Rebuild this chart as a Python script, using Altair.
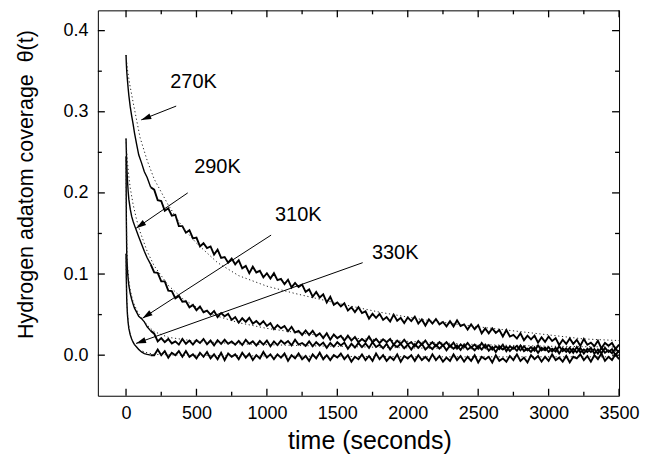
import math
import altair as alt
import pandas as pd

# ---------------- data ----------------
TIME = [0, 2, 5, 10, 15, 20, 30, 40, 50, 60, 75, 90, 110, 130, 150, 175,
        200, 225, 250, 275, 300, 325, 350, 375, 400, 425,
        450, 475, 500, 525, 550, 575, 600, 625, 650, 675,
        700, 725, 750, 775, 800, 825, 850, 875, 900, 925,
        950, 975, 1000, 1025, 1050, 1075, 1100, 1125, 1150, 1175,
        1200, 1225, 1250, 1275, 1300, 1325, 1350, 1375, 1400, 1425,
        1450, 1475, 1500, 1525, 1550, 1575, 1600, 1625, 1650, 1675,
        1700, 1725, 1750, 1775, 1800, 1825, 1850, 1875, 1900, 1925,
        1950, 1975, 2000, 2025, 2050, 2075, 2100, 2125, 2150, 2175,
        2200, 2225, 2250, 2275, 2300, 2325, 2350, 2375, 2400, 2425,
        2450, 2475, 2500, 2525, 2550, 2575, 2600, 2625, 2650, 2675,
        2700, 2725, 2750, 2775, 2800, 2825, 2850, 2875, 2900, 2925,
        2950, 2975, 3000, 3025, 3050, 3075, 3100, 3125, 3150, 3175,
        3200, 3225, 3250, 3275, 3300, 3325, 3350, 3375, 3400, 3425,
        3450, 3475, 3500]

COV_270 = [.370, .360, .350, .339, .329, .320, .306, .295, .285, .274, .260, .247, .237, .226, .219, .207,
           .204, .191, .190, .178, .181, .172, .173, .159, .159, .151,
           .154, .144, .145, .134, .138, .132, .134, .124, .130, .120,
           .121, .114, .119, .112, .117, .107, .110, .101, .109, .102,
           .104, .096, .101, .0945, .101, .0925, .094, .0875, .093, .0835,
           .089, .084, .087, .078, .081, .072, .078, .071, .075, .065,
           .072, .062, .065, .060, .064, .055, .059, .053, .059, .052,
           .054, .045, .051, .046, .051, .0435, .047, .0415, .050, .0425,
           .046, .0397, .0465, .042, .0475, .039, .044, .0365, .044, .039,
           .0445, .038, .041, .0355, .042, .0355, .043, .036, .038, .0315,
           .038, .032, .037, .027, .033, .027, .033, .0275, .031, .023,
           .031, .023, .025, .0205, .027, .0185, .024, .0195, .024, .0155,
           .022, .0165, .023, .0175, .021, .0125, .019, .0138, .0205, .014,
           .019, .0115, .020, .0128, .0155, .011, .0178, .0085, .015, .0115,
           .015, .0075, .013]

COV_290 = [.267, .252, .235, .216, .202, .192, .180, .171, .165, .160, .153, .146, .137, .128, .120, .112,
           .102, .1015, .091, .091, .0795, .079, .070, .073, .066, .0665,
           .059, .062, .0555, .060, .053, .055, .050, .0545, .047, .052,
           .048, .051, .0435, .047, .040, .0455, .041, .046, .039, .042,
           .0375, .042, .036, .0395, .032, .037, .033, .036, .0295, .035,
           .028, .030, .025, .0305, .025, .030, .0235, .027, .021, .027,
           .019, .0255, .021, .024, .018, .024, .018, .0225, .016, .020,
           .0165, .023, .016, .020, .015, .0195, .016, .020, .013, .018,
           .014, .019, .0135, .016, .011, .0175, .013, .018, .0115, .016,
           .011, .016, .012, .016, .0105, .0155, .008, .013, .010, .015,
           .0095, .013, .008, .015, .009, .0125, .007, .011, .0075, .013,
           .005, .011, .008, .0115, .006, .011, .006, .010, .0055, .012,
           .006, .0095, .004, .008, .0045, .011, .005, .0085, .003, .008,
           .0035, .009, .002, .008, .004, .0075, .002, .009, .003, .006,
           .0025, .008, .003]

COV_310 = [.245, .170, .125, .105, .094, .086, .076, .069, .063, .058, .053, .048, .045, .041, .035, .030,
           .0265, .017, .021, .016, .020, .0145, .017, .013, .020, .014,
           .018, .013, .0185, .015, .020, .0135, .018, .012, .0185, .014,
           .019, .014, .017, .013, .0175, .0125, .019, .014, .017, .012,
           .0175, .013, .018, .011, .017, .0125, .018, .014, .0175, .012,
           .019, .013, .015, .0115, .017, .011, .016, .012, .0155, .009,
           .015, .0105, .016, .012, .0155, .008, .014, .0095, .015, .010,
           .0145, .009, .016, .010, .013, .0085, .014, .007, .013, .010,
           .014, .0085, .013, .007, .0135, .009, .014, .007, .011, .0075,
           .013, .008, .0125, .006, .012, .008, .012, .0065, .013, .007,
           .010, .006, .0115, .007, .013, .0055, .010, .004, .011, .007,
           .0105, .005, .010, .0055, .012, .005, .008, .004, .0095, .003,
           .009, .006, .010, .0045, .009, .002, .0085, .004, .009, .003,
           .010, .0035, .007, .004, .009, .002, .007, .0025, .009, .004,
           .0075, .000, .006]

COV_330 = [.125, .095, .068, .050, .040, .033, .025, .020, .016, .013, .010, .007, .004, .002, .001, .000,
           .000, .007, .000, .005, -.003, .003, .000, .005, -.002, .005,
           -.002, .001, -.004, .003, -.002, .004, -.004, .001, -.005, .003,
           -.006, .002, -.002, .001, -.005, .003, -.003, .002, -.006, .000,
           -.004, .004, -.003, .001, -.005, .001, -.003, .002, -.007, .000,
           -.004, .002, -.005, -.001, -.007, .001, -.004, .003, -.005, .000,
           -.006, .000, -.003, .002, -.005, .000, -.008, -.002, -.005, .001,
           -.006, -.001, -.007, .002, -.005, .000, -.007, -.002, -.006, .001,
           -.008, -.001, -.004, .000, -.007, .000, -.006, -.002, -.007, .001,
           -.006, -.001, -.008, -.003, -.007, .001, -.006, -.001, -.008, -.002,
           -.007, .000, -.009, -.002, -.005, -.002, -.009, .000, -.007, -.004,
           -.008, -.001, -.006, .001, -.007, -.003, -.009, .000, -.005, -.001,
           -.008, -.002, -.007, .001, -.006, -.003, -.008, -.001, -.009, -.002,
           -.004, .001, -.006, -.001, -.008, .000, -.005, .002, -.007, -.002,
           -.006, .001, -.005]

# fitted (dotted) curves
FIT_T_270 = [0, 10, 25, 50, 75, 100, 150, 200, 300, 400, 500, 650, 800, 1000, 1200, 1500, 1800, 2100, 2400, 2700, 3000, 3250, 3500]
FIT_270 = [.370, .352, .335, .312, .290, .268, .240, .217, .185, .158, .138, .114, .098, .085, .076, .064, .053, .044, .037, .031, .025, .020, .018]
FIT_T_290 = [0, 5, 10, 20, 30, 50, 75, 100, 150, 200, 300, 400, 500, 650, 800, 1000, 1250, 1500, 2000, 2500, 3000, 3500]
FIT_290 = [.267, .250, .238, .220, .206, .186, .167, .152, .128, .110, .086, .070, .059, .048, .040, .033, .027, .022, .017, .013, .011, .010]
FIT_T_310 = [0, 2, 5, 10, 20, 30, 50, 75, 100, 150, 200, 300, 500, 800, 1200, 2000, 3500]
FIT_310 = [.245, .185, .140, .112, .092, .080, .066, .056, .048, .037, .029, .022, .017, .014, .012, .009, .005]
FIT_T_330 = [0, 2, 5, 10, 20, 30, 50, 75, 100, 150, 200, 400, 1000, 2000, 3500]
FIT_330 = [.125, .098, .072, .052, .035, .026, .016, .010, .006, .003, .001, .000, -.001, -.002, -.002]

# annotations
LABELS = ["270K", "290K", "310K", "330K"]
LABEL_T = [479, 649, 1223, 1911]
LABEL_Y = [.337, .232, .173, .126]
ARROW_T0 = [356, 438, 1030, 1680]
ARROW_Y0 = [.307, .200, .148, .114]
ARROW_T1 = [108, 72, 117, 71]
ARROW_Y1 = [.290, .1565, .0455, .0145]

X_MIN, X_MAX = -200, 3500
Y_MIN, Y_MAX = -0.05, 0.425
X_MAJOR = [0, 500, 1000, 1500, 2000, 2500, 3000, 3500]
X_MINOR = [250, 750, 1250, 1750, 2250, 2750, 3250]
Y_MAJOR = [0.0, 0.1, 0.2, 0.3, 0.4]
Y_MINOR = [0.05, 0.15, 0.25, 0.35]

# ---------------- layout ----------------
W, H = 522, 386
FONT = "Liberation Sans"
MAJ, MIN = 7, 4
NOISE_START = 175

solid = pd.concat([
    pd.DataFrame({"t": TIME, "v": vals, "s": name})
    for name, vals in zip(LABELS, [COV_270, COV_290, COV_310, COV_330])
])
fits = pd.concat([
    pd.DataFrame({"t": tt, "v": vv, "s": name})
    for name, tt, vv in zip(LABELS, [FIT_T_270, FIT_T_290, FIT_T_310, FIT_T_330],
                            [FIT_270, FIT_290, FIT_310, FIT_330])
])
sx = W / (X_MAX - X_MIN)
sy = H / (Y_MAX - Y_MIN)
angles = [math.degrees(math.atan2(-(y1 - y0) * sy, (t1 - t0) * sx)) % 360
          for t0, y0, t1, y1 in zip(ARROW_T0, ARROW_Y0, ARROW_T1, ARROW_Y1)]
arrows = pd.DataFrame({"t0": ARROW_T0, "y0": ARROW_Y0, "t1": ARROW_T1, "y1": ARROW_Y1,
                       "angle": angles})
labels = pd.DataFrame({"t": LABEL_T, "y": LABEL_Y, "label": LABELS})

# inward tick marks on all four sides, expressed in data units so they go through the scales
tick_rows = []
for vals, ln in ((X_MAJOR, MAJ), (X_MINOR, MIN)):
    for v in vals:
        tick_rows.append((v, v, Y_MIN, Y_MIN + ln / sy))
        tick_rows.append((v, v, Y_MAX, Y_MAX - ln / sy))
for vals, ln in ((Y_MAJOR, MAJ), (Y_MINOR, MIN)):
    for v in vals:
        tick_rows.append((X_MIN, X_MIN + ln / sx, v, v))
        tick_rows.append((X_MAX, X_MAX - ln / sx, v, v))
ticks = pd.DataFrame(tick_rows, columns=["x0", "x1", "y0", "y1"])

xscale = alt.Scale(domain=[X_MIN, X_MAX], nice=False, zero=False)
yscale = alt.Scale(domain=[Y_MIN, Y_MAX], nice=False, zero=False)

ax_x = alt.Axis(orient="bottom", values=X_MAJOR, format="d", ticks=False, domain=False,
                grid=False, labelFlush=False, labelOverlap=False,
                labelFont=FONT, labelFontSize=18, labelColor="black", labelPadding=9,
                title="time (seconds)", titleFont=FONT, titleFontSize=25,
                titleFontWeight="normal", titleColor="black", titlePadding=6,
                titleX=272, titleAlign="center", titleAnchor="middle")
ax_y = alt.Axis(orient="left", values=Y_MAJOR, format=".1f", ticks=False, domain=False,
                grid=False, labelFlush=False, labelOverlap=False,
                labelFont=FONT, labelFontSize=18, labelColor="black", labelPadding=10,
                title="Hydrogen adatom coverage\u00a0 \u03b8(t)", titleFont=FONT,
                titleFontSize=21.5, titleFontWeight="normal", titleColor="black",
                titlePadding=25, titleY=174, titleAlign="center", titleAnchor="middle")

X = lambda f: alt.X(f, type="quantitative", scale=xscale, axis=ax_x)
Y = lambda f: alt.Y(f, type="quantitative", scale=yscale, axis=ax_y)

early = alt.Chart(solid).transform_filter(alt.datum.t <= NOISE_START).mark_line(
    color="black", strokeWidth=1.4).encode(x=X("t"), y=Y("v"), detail="s:N")
noisy = alt.Chart(solid).transform_filter(alt.datum.t >= NOISE_START).mark_line(
    color="black", strokeWidth=1.9, strokeJoin="miter").encode(x=X("t"), y=Y("v"), detail="s:N")
dotted = alt.Chart(fits).mark_line(color="#222222", strokeWidth=1, strokeDash=[1.2, 2.6]).encode(
    x=X("t"), y=Y("v"), detail="s:N")
rules = alt.Chart(arrows).mark_rule(color="black", strokeWidth=1).encode(
    x=X("t0"), y=Y("y0"), x2="t1:Q", y2="y1:Q")
heads = alt.Chart(arrows).mark_point(
    shape="M0,0 L-1,-0.3 L-1,0.3 Z", filled=True, color="black", opacity=1, size=400
).encode(x=X("t1"), y=Y("y1"), angle=alt.Angle("angle:Q", scale=None))
texts = alt.Chart(labels).mark_text(font=FONT, fontSize=20, color="black",
                                    align="center", baseline="middle").encode(
    x=X("t"), y=Y("y"), text="label:N")
tick_marks = alt.Chart(ticks).mark_rule(color="black", strokeWidth=1.3).encode(
    x=X("x0"), x2="x1:Q", y=Y("y0"), y2="y1:Q")

chart = alt.layer(early, noisy, dotted, rules, heads, texts, tick_marks).properties(
    width=W, height=H,
    autosize=alt.AutoSizeParams(type="none"),
    padding={"left": 90, "top": 2, "right": 30, "bottom": 62},
    background="white",
).configure_view(stroke="black", strokeWidth=1)

chart.save("out.html", embed_options={"renderer": "svg", "actions": False})
